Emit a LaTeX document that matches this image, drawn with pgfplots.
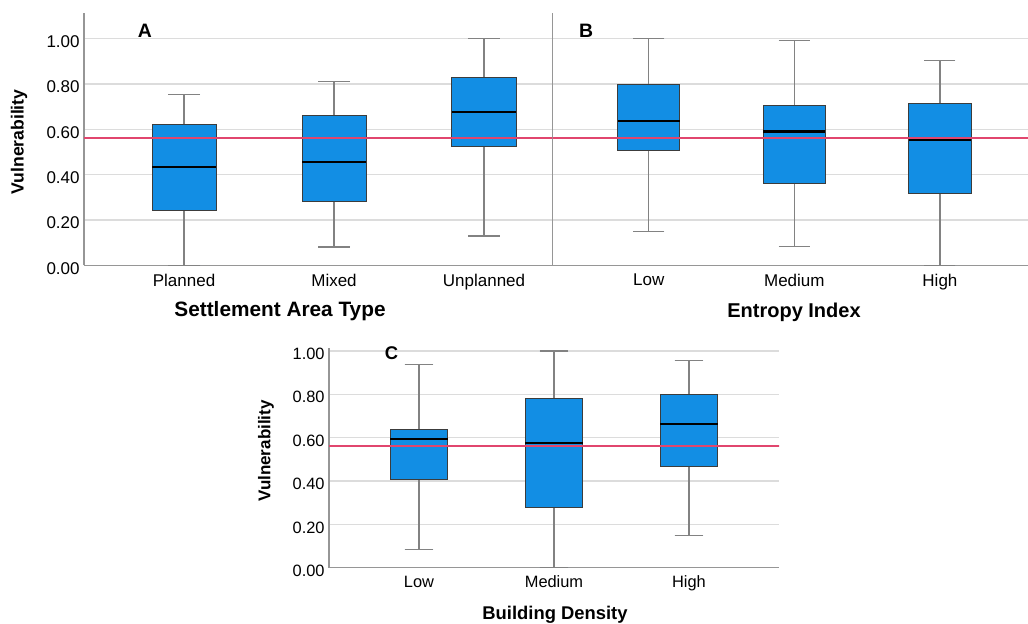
\documentclass[border=0pt]{standalone}
\usepackage{fontspec}
\setmainfont{Liberation Sans}
\usepackage{pgfplots}
\pgfplotsset{compat=1.18}
\usepgfplotslibrary{statistics}
\definecolor{boxblue}{RGB}{18,142,228}
\definecolor{boxedge}{RGB}{60,60,60}
\definecolor{whisk}{RGB}{130,130,130}
\definecolor{gridc}{RGB}{220,220,220}
\definecolor{axisc}{RGB}{150,150,150}
\definecolor{refpink}{RGB}{225,70,110}
\pgfplotsset{
  panel/.style={
    scale only axis, axis lines*=left,
    axis line style={draw=axisc, line width=0.6pt},
    ymin=0, ytick={0,0.2,0.4,0.6,0.8,1},
    ymajorgrids, grid style={draw=gridc, line width=0.75pt},
    major tick length=0pt,
    xtick={1,2,3},
    /pgf/number format/assume math mode=true,
    tick label style={font=\fontsize{8.5}{10}\selectfont, inner sep=0pt},
    yticklabel style={/pgf/number format/fixed, /pgf/number format/fixed zerofill, /pgf/number format/precision=2},
    yticklabel style={xshift=-2pt, yshift=-1.5pt},
    xticklabel style={yshift=-4pt},
    boxplot/draw direction=y,
    boxplot/box extend=0.427, boxplot/whisker extend=0.213,
    boxplot/every whisker/.style={draw=whisk, line width=0.6pt},
    boxplot/every median/.style={draw=black, line width=1.1pt},
  },
  bx/.style={draw=boxedge, line width=0.5pt, fill=boxblue},
  refline/.style={color=refpink, line width=0.8pt, mark=none, sharp plot},
}
\begin{document}
\begin{tikzpicture}
\useasboundingbox (0,0) rectangle (514pt,-312pt);
% Panel A
\begin{axis}[panel, at={(42pt,-132.65pt)}, anchor=south west,
  width=234.5pt, height=126pt, xmin=0.333, xmax=3.46, ymax=1.112,
  xticklabels={Planned,Mixed,Unplanned}]
\addplot[bx, boxplot prepared={draw position=1, lower whisker=0.0, lower quartile=0.240, median=0.434, upper quartile=0.622, upper whisker=0.754}] coordinates {};
\addplot[bx, boxplot prepared={draw position=2, lower whisker=0.081, lower quartile=0.282, median=0.457, upper quartile=0.659, upper whisker=0.812}] coordinates {};
\addplot[bx, boxplot prepared={draw position=3, lower whisker=0.129, lower quartile=0.523, median=0.676, upper quartile=0.828, upper whisker=1.0}] coordinates {};
\addplot[refline] coordinates {(0.3,0.562) (3.7,0.562)};
\end{axis}
% Panel B
\begin{axis}[panel, at={(276.35pt,-132.65pt)}, anchor=south west,
  width=237.65pt, height=126pt, xmin=0.34, xmax=3.605, ymax=1.112,
  xticklabels={Low,Medium,High}, yticklabels={}]
\addplot[bx, boxplot prepared={draw position=1, lower whisker=0.150, lower quartile=0.508, median=0.638, upper quartile=0.798, upper whisker=1.0}] coordinates {};
\addplot[bx, boxplot prepared={draw position=2, lower whisker=0.082, lower quartile=0.359, median=0.590, upper quartile=0.705, upper whisker=0.992}] coordinates {};
\addplot[bx, boxplot prepared={draw position=3, lower whisker=0.0, lower quartile=0.316, median=0.552, upper quartile=0.716, upper whisker=0.904}] coordinates {};
\addplot[refline] coordinates {(0.3,0.562) (3.7,0.562)};
\end{axis}
% Panel C
\begin{axis}[panel, at={(164.5pt,-283.85pt)}, anchor=south west,
  width=225pt, height=109.7pt, xmin=0.333, xmax=3.667, ymax=1.0125,
  tick label style={font=\fontsize{8.2}{10}\selectfont},
  xticklabels={Low,Medium,High}]
\addplot[bx, boxplot prepared={draw position=1, lower whisker=0.083, lower quartile=0.406, median=0.593, upper quartile=0.639, upper whisker=0.937}] coordinates {};
\addplot[bx, boxplot prepared={draw position=2, lower whisker=0.0, lower quartile=0.276, median=0.574, upper quartile=0.779, upper whisker=1.0}] coordinates {};
\addplot[bx, boxplot prepared={draw position=3, lower whisker=0.147, lower quartile=0.465, median=0.663, upper quartile=0.801, upper whisker=0.958}] coordinates {};
\addplot[refline] coordinates {(0.3,0.563) (3.7,0.563)};
\end{axis}
% Labels
\node[font=\bfseries\fontsize{10.4}{12}\selectfont, anchor=base] at (140pt,-158.3pt) {Settlement Area Type};
\node[font=\bfseries\fontsize{10}{12}\selectfont, anchor=base] at (397pt,-159pt) {Entropy Index};
\node[font=\bfseries\fontsize{9.2}{11}\selectfont, anchor=base] at (277.5pt,-309.5pt) {Building Density};
\node[rotate=90, font=\bfseries\fontsize{8.8}{10}\selectfont] at (9.5pt,-71pt) {Vulnerability};
\node[rotate=90, font=\bfseries\fontsize{8.5}{10}\selectfont] at (133pt,-225.5pt) {Vulnerability};
\node[font=\bfseries\fontsize{9.7}{11}\selectfont, anchor=base] at (72.5pt,-19pt) {A};
\node[font=\bfseries\fontsize{9.7}{11}\selectfont, anchor=base] at (293pt,-18.8pt) {B};
\node[font=\bfseries\fontsize{9.2}{11}\selectfont, anchor=base] at (195.75pt,-180pt) {C};
\end{tikzpicture}
\end{document}
